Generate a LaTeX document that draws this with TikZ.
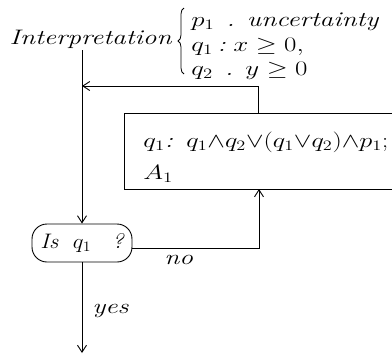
\documentclass[tikz,border=0pt]{standalone}
\usepackage{graphicx}
\usetikzlibrary{arrows.meta,decorations.pathreplacing}
\newcommand\hw[1]{\scalebox{1.3}[1]{#1}}
\newcommand\hf[1]{\scalebox{1.27}[1]{#1}}
\begin{document}
\begin{tikzpicture}[x=1pt,y=-1pt, line width=0.9pt,
  arr/.style={-{Straight Barb[length=7pt,width=9pt]}},
  txt/.style={font=\fontsize{21}{25}\selectfont\itshape, inner sep=0pt, anchor=base west}]
\useasboundingbox (0,0) rectangle (392,354);
% heading
\node[txt, anchor=base east] (interp) at (172,44) {\hw{Interpretation}};
\coordinate (bt) at (184,8);
\coordinate (bb) at (184,74);
\draw[line width=0.8pt, decorate, decoration={brace, amplitude=6pt}] (bb) -- (bt);
\node[txt] (l1) at (191,26) {\hw{$p_1$\;\,.\;\,uncertainty}};
\node[txt] (l2) at (191,51) {\hw{$q_1$\,:\;$x\geq 0,$}};
\node[txt] (l3) at (191,75) {\hw{$q_2$\;\,.\;\,$y\geq 0$}};
% process box
\node[draw, minimum width=290pt, minimum height=76pt, anchor=north west, inner sep=0pt] (box) at (124,113) {};
\node[txt] (f1a) at (143,147) {\hw{$q_1$:}};
\node[txt] (f1) at (186,147) {\hf{$q_1{\wedge} q_2{\vee}(q_1{\vee} q_2){\wedge} p_1;$}};
\node[txt] (f2) at (143,179) {\hw{$A_1$}};
% decision
\node[draw, rounded corners=15pt, minimum width=100pt, minimum height=38pt, inner sep=0pt,
      font=\fontsize{21}{25}\selectfont\itshape] (dec) at (82,243) {\scalebox{1.1}[1]{Is\; $q_1$\;\; ?}};
% connectors
\coordinate (top) at (82,50);
\coordinate (fbs) at (258,113);
\coordinate (fbc) at (258,86);
\coordinate (fbe) at (82,86);
\coordinate (noA) at (132,248);
\coordinate (noC) at (259,248);
\coordinate (noE) at (259,189);
\coordinate (bot) at (82,353);
\draw[arr] (top) -- (dec.north);
\draw[arr] (fbs) -- (fbc) -- (fbe);
\draw[arr] (noA) -- (noC) -- (noE);
\draw[arr] (dec.south) -- (bot);
\node[txt] (no) at (164,264) {\hw{no}};
\node[txt] (yes) at (92,313) {\hw{yes}};
\end{tikzpicture}
\end{document}
